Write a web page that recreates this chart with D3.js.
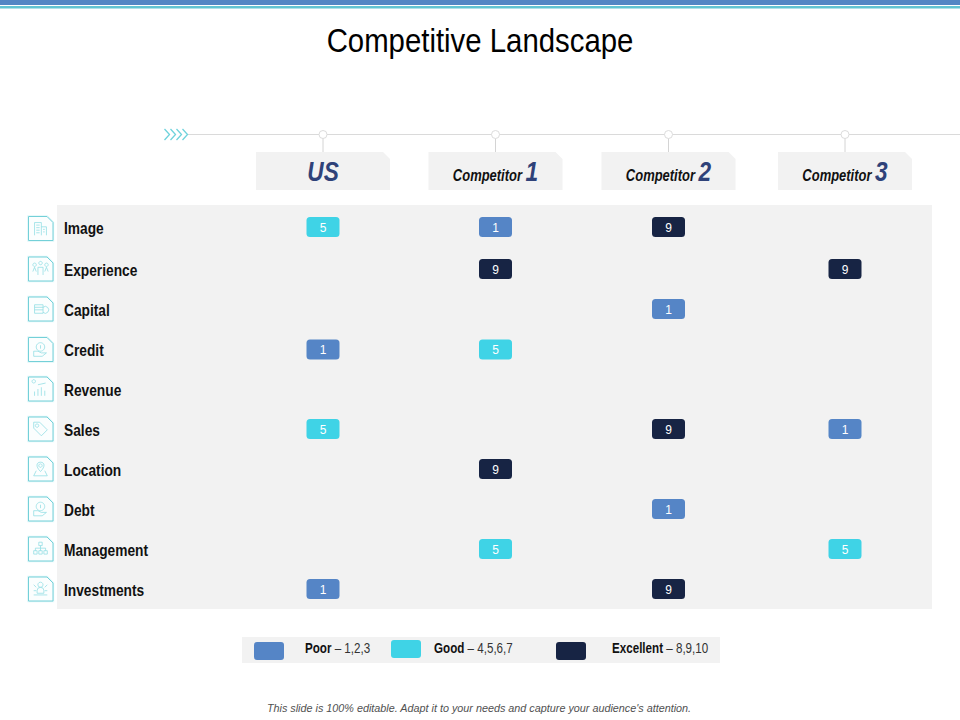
<!DOCTYPE html>
<html>
<head>
<meta charset="utf-8">
<script src="https://cdn.jsdelivr.net/npm/d3@7"></script>
<style>
body { margin: 0; background: #fff; }
svg { display: block; }
text { font-family: "Liberation Sans", sans-serif; }
</style>
</head>
<body>
<div id="chart"></div>
<script>
var factors = ['Image', 'Experience', 'Capital', 'Credit', 'Revenue', 'Sales', 'Location', 'Debt', 'Management', 'Investments'];
var columns = ['US', 'Competitor 1', 'Competitor 2', 'Competitor 3'];

// one score per factor, 0 = no badge in that cell
var usScores = [5, 0, 0, 1, 0, 5, 0, 0, 0, 1];
var comp1Scores = [1, 9, 0, 5, 0, 0, 9, 0, 5, 0];
var comp2Scores = [9, 0, 1, 0, 0, 9, 0, 1, 0, 9];
var comp3Scores = [0, 9, 0, 0, 0, 1, 0, 0, 5, 0];
var allScores = [usScores, comp1Scores, comp2Scores, comp3Scores];

var legendNames = ['Poor', 'Good', 'Excellent'];
var legendRanges = ['1,2,3', '4,5,6,7', '8,9,10'];

var w = 960, h = 720;
var chart = d3.select('#chart').append('svg').attr('width', w).attr('height', h);

var x = d3.scaleOrdinal().domain(columns).range([323, 495.5, 668.5, 845]);
// rows are not quite even in the slide, the first one sits a bit higher
var y = d3.scaleOrdinal().domain(factors).range([228, 270, 310, 350.5, 390, 430, 470, 510, 550, 590]);
var color = d3.scaleThreshold().domain([4, 8]).range(['#5585c6', '#3fd3e6', '#172444']);

// no narrow font installed, so squeeze the text sideways
function squeeze(px, py, ratio) {
    return 'translate(' + px + ',' + py + ') scale(' + ratio + ',1)';
}

// top stripes
chart.append('rect').attr('width', w).attr('height', 5).attr('fill', '#5386c4');
chart.append('rect').attr('y', 6).attr('width', w).attr('height', 2.5).attr('fill', '#62c4d2');

chart.append('text').attr('transform', squeeze(480, 52, 0.89)).attr('text-anchor', 'middle')
    .style('font-size', '33px').style('fill', '#000').text('Competitive Landscape');

// timeline
chart.append('line').attr('x1', 188).attr('x2', w).attr('y1', 134.5).attr('y2', 134.5)
    .style('stroke', '#dadada').style('stroke-width', 1);
d3.range(4).forEach(function(i) {
    chart.append('path')
        .attr('d', 'M' + (164.5 + i * 6) + ',129 l5,5.5 l-5,5.5')
        .attr('fill', 'none').style('stroke', '#6fd3dc').style('stroke-width', 1.3);
});

// header tabs
var tabWidth = 134, tabTop = 152, tabBottom = 190, tabCut = 7;
var tab = chart.selectAll('.tab').data(columns).enter().append('g').attr('class', 'tab')
    .attr('transform', function(d) { return 'translate(' + x(d) + ',0)'; });
tab.append('line').attr('y1', 134).attr('y2', tabTop).style('stroke', '#d4d4d4');
tab.append('circle').attr('cy', 134.5).attr('r', 4).attr('fill', '#fff')
    .style('stroke', '#dcdcdc').style('stroke-width', 1);
tab.append('path')
    .attr('d', 'M' + (-tabWidth / 2) + ',' + tabTop + 'H' + (tabWidth / 2 - tabCut) +
        'L' + (tabWidth / 2) + ',' + (tabTop + tabCut) + 'V' + tabBottom + 'H' + (-tabWidth / 2) + 'Z')
    .attr('fill', '#f2f2f2');

var tabLabel = tab.append('text').attr('text-anchor', 'middle')
    .attr('transform', squeeze(0, 181, 0.81))
    .style('font-style', 'italic').style('font-weight', 'bold');
tabLabel.filter(function(d) { return d == 'US'; })
    .style('font-size', '28px').style('fill', '#2f4279').text('US');
tabLabel.filter(function(d) { return d != 'US'; }).each(function(d) {
    var parts = d.split(' ');
    d3.select(this).append('tspan').style('font-size', '16px').style('fill', '#111').text(parts[0] + ' ');
    d3.select(this).append('tspan').style('font-size', '28px').style('fill', '#2f4279').text(parts[1]);
});

// table background
chart.append('rect').attr('x', 57).attr('y', 205).attr('width', 875).attr('height', 404).attr('fill', '#f2f2f2');

// small line icons, drawn around 0,0
var icons = {
    Image: 'M-7,8V-7H1V8M1,-2H7V8M-5,-4H-1M-5,-1H-1M-5,2H-1M-5,5H-1M3,1H5M3,4H5',
    Experience: 'M-7,-3a2,2 0 1,1 .1,0M0,-5a2,2 0 1,1 .1,0M7,-3a2,2 0 1,1 .1,0M-9,3L-7,-2L-5,3M-3,7V-2H3V7M5,3L7,-2L9,3',
    Capital: 'M-7,-5H3V5H-7ZM-7,-2H3M-7,1H3M3,-2a4,4 0 1,1 0,6',
    Credit: 'M-8,2H-3L1,4H7L2,8H-8ZM0,-8a5,5 0 1,1 -.1,0M0,-5V-1',
    Revenue: 'M-7,8V3M-3,8V0M1,8V-2M5,8V2M-8,-7a2,2 0 1,1 .1,0M-3,-5L6,-7',
    Sales: 'M-8,-8H-1L8,1L1,8L-8,-1ZM-4,-6a2,2 0 1,1 -.1,0',
    Location: 'M0,3C-6,-3 -5,-8 0,-8C5,-8 6,-3 0,3ZM0,-6a2,2 0 1,1 -.1,0M-5,2L-8,8H8L5,2',
    Debt: 'M-8,2H-3L1,4H7L2,8H-8ZM0,-8a5,5 0 1,1 -.1,0M0,-5V-1',
    Management: 'M-2,-8H2V-4H-2ZM0,-4V-1M-6,-1H6M-6,-1V2M0,-1V2M6,-1V2M-8,2H-4V6H-8ZM-2,2H2V6H-2ZM4,2H8V6H4Z',
    Investments: 'M0,-8a3,3 0 1,1 -.1,0M-4,2a4,4 0 0,1 8,0V5H-4ZM-8,-5l3,3M8,-5l-3,3M-8,7H8M-8,2H-5M8,2H5'
};

var row = chart.selectAll('.row').data(factors).enter().append('g').attr('class', 'row')
    .attr('transform', function(d) { return 'translate(0,' + y(d) + ')'; });

var icon = row.append('g')
    .attr('transform', function(d, i) { return 'translate(0,' + (i == 0 ? 0.5 : -1) + ')'; });
icon.append('path')
    .attr('d', 'M28.5,-12H47L53,-6V12H28.5Z')
    .attr('fill', '#fff').style('stroke', '#dff7f9').style('stroke-width', 2.4);
icon.append('path')
    .attr('d', 'M28.5,-12H47L53,-6V12H28.5Z')
    .attr('fill', '#fbfefe').style('stroke', '#74d0d8').style('stroke-width', 1);
icon.append('path')
    .attr('transform', 'translate(40.5,0) scale(0.85)')
    .attr('d', function(d) { return icons[d]; })
    .attr('fill', 'none').style('stroke', '#8fdde3').style('stroke-width', 0.9);
row.append('text').attr('transform', squeeze(64, 5.5, 0.86))
    .style('font-size', '16px').style('font-weight', 'bold').style('fill', '#111')
    .text(function(d) { return d; });

// score badges
columns.forEach(function(col, c) {
    var cells = allScores[c].map(function(v, i) { return { factor: factors[i], value: v }; })
        .filter(function(d) { return d.value > 0; });
    var badge = chart.selectAll('.badge' + c).data(cells).enter().append('g').attr('class', 'badge' + c)
        .attr('transform', function(d) { return 'translate(' + x(col) + ',' + (y(d.factor) - 1) + ')'; });
    badge.append('rect').attr('x', -16.5).attr('y', -10).attr('width', 33).attr('height', 20).attr('rx', 3.5)
        .attr('fill', function(d) { return color(d.value); });
    badge.append('text').attr('text-anchor', 'middle').attr('y', 4.5)
        .style('font-size', '12px').style('fill', '#fff')
        .text(function(d) { return d.value; });
});

// legend
chart.append('rect').attr('x', 242).attr('y', 637).attr('width', 478).attr('height', 26).attr('fill', '#f2f2f2');
var swatchX = [254, 391, 556], swatchY = [642, 640, 642], labelX = [305, 434, 612];
legendNames.forEach(function(name, i) {
    chart.append('rect').attr('x', swatchX[i]).attr('y', swatchY[i]).attr('width', 30).attr('height', 18).attr('rx', 3)
        .attr('fill', color.range()[i]);
    var t = chart.append('text').attr('transform', squeeze(labelX[i], 653, 0.83))
        .style('font-size', '14px').style('fill', '#333');
    t.append('tspan').style('font-weight', 'bold').style('fill', '#111').text(name);
    t.append('tspan').text(' \u2013 ' + legendRanges[i]);
});

chart.append('text').attr('x', 479).attr('y', 712).attr('text-anchor', 'middle')
    .style('font-style', 'italic').style('font-size', '10.8px').style('fill', '#505050')
    .text("This slide is 100% editable. Adapt it to your needs and capture your audience's attention.");
</script>
</body>
</html>
